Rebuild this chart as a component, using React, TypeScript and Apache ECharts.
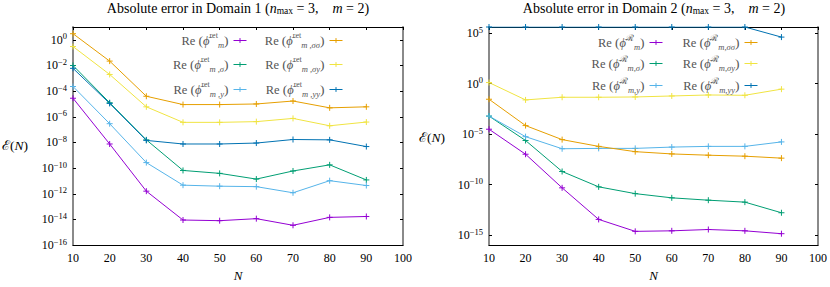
import React, { useEffect, useRef } from 'react';
import * as echarts from 'echarts';

// ---------- data ----------
const N = [10, 20, 30, 40, 50, 60, 70, 80, 90];

// Domain 1
const d1_m = [2.8e-5, 7.6e-9, 1.6e-12, 9e-15, 8e-15, 1.15e-14, 3.5e-15, 1.45e-14, 1.7e-14];
const d1_s = [1e-2, 1.25e-5, 1.6e-8, 6.6e-11, 3.9e-11, 1.4e-11, 6e-11, 1.8e-10, 1.2e-11];
const d1_y = [2.3e-4, 2.9e-7, 2.7e-10, 4.7e-12, 3.9e-12, 3.6e-12, 1.2e-12, 1.05e-11, 4.4e-12];
const d1_ss = [3, 0.022, 4e-5, 9e-6, 9e-6, 1e-5, 1.7e-5, 5e-6, 6e-6];
const d1_sy = [0.3, 2e-3, 6e-6, 3.7e-7, 3.7e-7, 4.2e-7, 7.5e-7, 2e-7, 3.9e-7];
const d1_yy = [6e-3, 1.1e-5, 1.45e-8, 7.6e-9, 7.6e-9, 9e-9, 1.7e-8, 1.6e-8, 4.8e-9];

// Domain 2
const d2_m = [3e-5, 1e-7, 4.7e-11, 3.5e-14, 2.3e-15, 2.6e-15, 3.5e-15, 2.6e-15, 1.35e-15];
const d2_s = [6e-4, 2.3e-6, 1.95e-9, 5.9e-11, 1.25e-11, 4.8e-12, 2.8e-12, 1.8e-12, 1.6e-13];
const d2_y = [6e-4, 5.5e-6, 3.5e-7, 3.8e-7, 3.8e-7, 5.1e-7, 6e-7, 6e-7, 1.66e-6];
const d2_ss = [0.028, 6.9e-5, 2.8e-6, 6e-7, 1.8e-7, 1.07e-7, 8e-8, 6.4e-8, 4.1e-8];
const d2_sy = [1.26, 0.024, 0.044, 0.044, 0.047, 0.059, 0.074, 0.069, 0.28];
const d2_yy = [4e5, 4e5, 4e5, 4e5, 4e5, 4e5, 4e5, 4e5, 4e4];

const d1Ticks = [1e-16, 1e-14, 1e-12, 1e-10, 1e-8, 1e-6, 1e-4, 1e-2, 1];
const d2Ticks = [1e-15, 1e-10, 1e-5, 1, 1e5];
const xTicks = [10, 20, 30, 40, 50, 60, 70, 80, 90, 100];

const seriesKeys = ['m', 's', 'y', 'ss', 'sy', 'yy'];
const d1Sub = ['m', 'm ,σ', 'm ,y', 'm ,σσ', 'm ,σy', 'm ,yy'];
const d2Sub = ['m', 'm,σ', 'm,y', 'm,σσ', 'm,σy', 'm,yy'];

const COLORS = ['#9400d3', '#009e73', '#56b4e9', '#e69f00', '#f0e442', '#0072b2'];

const SERIF = "'Liberation Serif', 'DejaVu Serif', serif";
const PLUS = 'path://M-1,0L1,0M0,-1L0,1';

export default function App() {
  const ref = useRef<HTMLDivElement>(null);

  useEffect(() => {
    if (!ref.current) return;
    const chart = echarts.init(ref.current, null, { renderer: 'svg' });

    const d1 = [d1_m, d1_s, d1_y, d1_ss, d1_sy, d1_yy];
    const d2 = [d2_m, d2_s, d2_y, d2_ss, d2_sy, d2_yy];

    const labelMap: Record<string, string> = {};
    seriesKeys.forEach((k, i) => {
      labelMap['D1 ' + k] = `{re|Re }{p|(}{phi|ϕ̄}{sup|ret}{sub|${d1Sub[i]}}{p|)}`;
      labelMap['D2 ' + k] = `{re|Re }{p|(}{phi|ϕ̄}{supR|ℛ}{sub|${d2Sub[i]}}{p|)}`;
    });

    const mkSeries = (name: string, vals: number[], color: string, g: number) => ({
      name,
      type: 'line',
      xAxisIndex: g * 2,
      yAxisIndex: g * 2,
      data: N.map((n, i) => [n, vals[i]]),
      symbol: PLUS,
      symbolSize: 6,
      showSymbol: true,
      lineStyle: { color, width: 1 },
      itemStyle: { color, borderColor: color, borderWidth: 1 },
      emphasis: { disabled: true },
      clip: true,
    });

    const series: any[] = [];
    seriesKeys.forEach((k, i) => series.push(mkSeries('D1 ' + k, d1[i], COLORS[i], 0)));
    seriesKeys.forEach((k, i) => series.push(mkSeries('D2 ' + k, d2[i], COLORS[i], 1)));

    const TXT = '#555';
    const legendRich = {
      re: { fontSize: 12.5, fontFamily: SERIF, color: TXT, lineHeight: 18 },
      p: { fontSize: 13.5, fontFamily: SERIF, color: TXT, lineHeight: 18 },
      phi: { fontSize: 12.5, fontFamily: SERIF, fontStyle: 'italic', color: TXT, lineHeight: 18 },
      sup: { fontSize: 8, fontFamily: SERIF, color: TXT, lineHeight: 10, verticalAlign: 'top' },
      supR: { fontSize: 9, fontFamily: SERIF, color: TXT, lineHeight: 10, verticalAlign: 'top' },
      sub: { fontSize: 8.5, fontFamily: SERIF, fontStyle: 'italic', color: TXT, lineHeight: 10, verticalAlign: 'bottom' },
    };

    // legend placement: [name, right, top]
    const legendPos: [string, number, number][] = [
      ['D1 m', 583, 31.5], ['D1 s', 583, 55.5], ['D1 y', 583, 80.5],
      ['D1 ss', 487, 31.5], ['D1 sy', 487, 55.5], ['D1 yy', 487, 80.5],
      ['D2 m', 167, 33.5], ['D2 s', 167, 54.5], ['D2 y', 167, 76.5],
      ['D2 ss', 72, 33.5], ['D2 sy', 72, 54.5], ['D2 yy', 72, 76.5],
    ];
    const legends = legendPos.map(([name, right, top]) => ({
      data: [name],
      right,
      top,
      orient: 'vertical',
      align: 'right',
      itemWidth: 13,
      itemHeight: 6,
      padding: 0,
      itemGap: 0,
      selectedMode: false,
      lineStyle: { width: 1 },
      itemStyle: { borderWidth: 1 },
      formatter: (n: string) => labelMap[n],
      textStyle: { fontFamily: SERIF, color: TXT, rich: legendRich },
    }));

    const expLabel = (v: number) => {
      const e = Math.round(Math.log10(v));
      const s = e < 0 ? '−' + -e : String(e);
      return `{b|10}{e|${s}}`;
    };
    const yLabelRich = {
      b: { fontSize: 12, fontFamily: SERIF, color: '#000', lineHeight: 16 },
      e: { fontSize: 8.5, fontFamily: SERIF, color: '#000', lineHeight: 10, verticalAlign: 'top' },
    };

    const xAxisPair = (g: number) => [
      {
        gridIndex: g, type: 'value', min: 10, max: 100, interval: 10, position: 'bottom',
        axisLine: { onZero: false, lineStyle: { color: '#000', width: 1 } },
        axisTick: { show: false },
        axisLabel: { fontFamily: SERIF, fontSize: 12, color: '#000', margin: 7, customValues: xTicks },
        splitLine: { show: false },
        name: 'N', nameLocation: 'middle', nameGap: 20,
        nameTextStyle: { fontFamily: SERIF, fontStyle: 'italic', fontSize: 13, color: '#000' },
      },
      {
        gridIndex: g, type: 'value', min: 10, max: 100, interval: 10, position: 'top',
        axisLine: { onZero: false, lineStyle: { color: '#000', width: 1 } },
        axisTick: { show: true, inside: true, length: 3, lineStyle: { color: '#000' } },
        axisLabel: { show: false },
        splitLine: { show: false },
      },
    ];

    const yAxisPair = (g: number, max: number, ticks: number[]) => [
      {
        gridIndex: g, type: 'log', logBase: 10, min: 1e-16, max, position: 'left',
        axisLine: { onZero: false, lineStyle: { color: '#8a8a8a', width: 2 } },
        axisTick: { show: true, inside: true, length: 3, lineStyle: { color: '#000' }, customValues: ticks },
        axisLabel: { formatter: expLabel, rich: yLabelRich, margin: 6, customValues: ticks },
        splitLine: { show: false },
        minorTick: { show: false },
      },
      {
        gridIndex: g, type: 'log', logBase: 10, min: 1e-16, max, position: 'right',
        axisLine: { onZero: false, lineStyle: { color: '#8a8a8a', width: 2 } },
        axisTick: { show: true, inside: true, length: 3, lineStyle: { color: '#000' }, customValues: ticks },
        axisLabel: { show: false },
        splitLine: { show: false },
      },
    ];

    const titleRich = {
      t: { fontSize: 14, fontFamily: SERIF, color: '#000', lineHeight: 16 },
      i: { fontSize: 14, fontFamily: SERIF, fontStyle: 'italic', color: '#000', lineHeight: 16 },
      s: { fontSize: 9.5, fontFamily: SERIF, color: '#000', lineHeight: 9, verticalAlign: 'bottom' },
    };
    const mkTitle = (d: number, left: number) => ({
      text: `{t|Absolute error in Domain ${d} (}{i|n}{s|max}{t| = 3,    }{i|m}{t| = 2)}`,
      left,
      top: 0,
      padding: 0,
      textAlign: 'center',
      textStyle: { fontFamily: SERIF, fontWeight: 'normal', fontSize: 14, color: '#000', rich: titleRich },
    });

    const yNameStyle = (x: number, y: number) => ({
      type: 'text',
      x,
      y,
      style: {
        text: '{a|ℰ(}{i|N}{a|)}',
        verticalAlign: 'middle',
        rich: {
          a: { fontSize: 13.5, fontFamily: SERIF, color: '#000' },
          i: { fontSize: 13.5, fontFamily: SERIF, fontStyle: 'italic', color: '#000' },
        },
      },
    });

    const option: any = {
      animation: false,
      backgroundColor: '#fff',
      title: [mkTitle(1, 238), mkTitle(2, 654)],
      legend: legends,
      grid: [
        { left: 73, top: 27, width: 330, height: 223 },
        { left: 489, top: 27, width: 330, height: 223 },
      ],
      xAxis: [...xAxisPair(0), ...xAxisPair(1)],
      yAxis: [...yAxisPair(0, 10, d1Ticks), ...yAxisPair(1, 4e5, d2Ticks)],
      graphic: [yNameStyle(2, 145), yNameStyle(419, 137)],
      series,
    };

    chart.setOption(option);
    return () => chart.dispose();
  }, []);

  return (
    <div
      ref={ref}
      style={{ position: 'fixed', left: 0, top: 0, width: 830, height: 287 }}
    />
  );
}
